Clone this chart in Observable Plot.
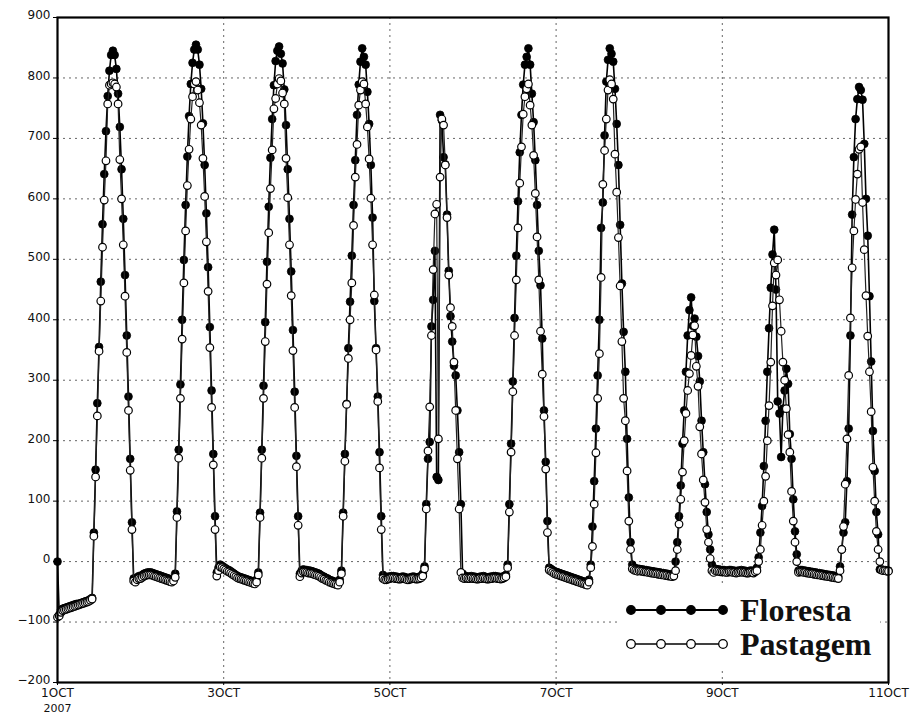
<!DOCTYPE html>
<html>
<head>
<meta charset="utf-8">
<script src="https://cdn.jsdelivr.net/npm/d3@7"></script>
<script src="https://cdn.jsdelivr.net/npm/@observablehq/plot@0.6"></script>
<style>
  html, body { margin: 0; padding: 0; background: white; }
  #chart svg { display: block; }
</style>
</head>
<body>
<div id="chart"></div>
<script>
// Half-hourly samples (UTC), 48 per day, from 1 Oct 2007 00:00
const florestaOct1 = [0,-88,-80,-78,-77,-76,-75,-74,-73,-72,-71,-70,-70,-69,-68,-67,-66,-65,-64,-62,-60,
  48,152,262,355,463,558,641,712,770,812,838,845,838,815,774,719,649,567,474,374,273,170,65,
  -28,-30,-26,-24];
const florestaOct2 = [-24,-22,-20,-19,-18,-18,-18,-19,-20,-21,-22,-23,-24,-25,-26,-27,-28,-29,-30,-28,-20,
  83,185,293,400,499,590,670,737,790,825,847,855,847,822,782,725,656,576,487,388,283,178,75,
  -18,-10,-5,-7];
const florestaOct3 = [-9,-11,-13,-14,-16,-18,-20,-22,-24,-25,-26,-27,-28,-29,-30,-31,-32,-33,-34,-30,-18,
  81,185,291,396,496,587,668,732,788,828,845,852,840,824,781,722,649,567,480,383,281,175,75,
  -20,-15,-13,-14];
const florestaOct4 = [-14,-15,-15,-16,-17,-18,-19,-20,-22,-24,-25,-27,-28,-30,-31,-32,-33,-34,-35,-30,-15,
  81,178,261,353,430,506,590,664,739,789,827,849,835,822,777,724,656,569,431,353,273,181,75,
  -22,-25,-26,-25];
const florestaOct5 = [-25,-24,-24,-25,-25,-26,-26,-25,-25,-26,-27,-27,-26,-25,-25,-26,-26,-25,-24,-20,-8,
  95,170,198,389,433,514,140,135,739,730,669,657,574,481,406,364,324,308,250,181,95,-20,-25,
  -24,-25,-25,-24];
const florestaOct6 = [-25,-25,-26,-26,-25,-25,-24,-25,-26,-26,-25,-25,-24,-24,-25,-25,-26,-25,-24,-22,-5,
  95,195,298,403,506,596,677,739,789,822,835,849,822,774,727,664,590,514,457,369,250,165,67,
  -10,-12,-14,-16];
const florestaOct7 = [-17,-18,-19,-20,-21,-22,-23,-24,-25,-26,-27,-28,-29,-30,-31,-32,-33,-34,-35,-30,
  -5,58,133,220,308,400,552,594,705,794,830,849,840,827,782,724,656,557,460,380,314,203,106,32,-5,
  -10,-11,-12];
const florestaOct8 = [-12,-13,-13,-14,-14,-15,-15,-16,-16,-17,-17,-18,-18,-19,-19,-20,-20,-21,-21,-22,-20,
  0,32,75,126,195,250,314,374,416,437,390,402,372,340,298,233,181,128,82,45,20,-5,-15,
  -12,-13,-13,-14];
const florestaOct9 = [-14,-14,-15,-15,-14,-14,-15,-15,-16,-15,-15,-14,-15,-15,-16,-16,-15,-15,-16,-14,-10,
  7,48,92,158,233,314,386,453,508,549,450,265,245,173,253,283,319,294,211,170,103,50,12,-15,
  -14,-14,-15];
const florestaOct10 = [-15,-16,-16,-17,-17,-18,-18,-19,-19,-20,-20,-21,-21,-22,-22,-23,-23,-24,-24,-25,
  -8,20,48,65,133,220,374,574,669,732,765,785,780,764,691,600,539,439,331,216,150,82,45,-13,
  -13,-14,-14,-15];
const florestaOct11 = [-15];

const pastagemOct1 = [-92,-90,-84,-81,-80,-79,-78,-77,-76,-75,-74,-73,-72,-71,-70,-69,-68,-67,-66,-64,-62,
  42,140,241,348,431,520,598,663,757,788,790,792,790,785,757,665,600,524,439,346,250,151,53,
  -32,-34,-30,-28];
const pastagemOct2 = [-28,-26,-24,-23,-22,-22,-22,-23,-24,-25,-26,-27,-28,-29,-30,-31,-32,-33,-34,-32,-26,
  73,171,270,368,461,547,622,682,732,769,790,794,780,759,722,667,604,529,447,354,255,160,53,
  -24,-15,-9,-10];
const pastagemOct3 = [-12,-14,-16,-17,-19,-21,-23,-25,-27,-28,-29,-30,-31,-32,-33,-34,-35,-36,-37,-34,-22,
  73,171,270,364,459,544,617,681,749,766,790,799,795,775,757,667,602,524,440,349,255,157,60,
  -25,-19,-17,-17];
const pastagemOct4 = [-18,-19,-19,-20,-21,-22,-23,-24,-26,-28,-29,-31,-32,-34,-35,-36,-37,-38,-39,-34,-20,
  75,166,260,336,400,461,556,636,690,755,780,794,790,757,719,666,601,524,441,350,265,155,53,
  -28,-30,-30,-29];
const pastagemOct5 = [-28,-27,-27,-28,-28,-29,-29,-28,-28,-29,-30,-30,-29,-28,-28,-29,-29,-28,-27,-24,-12,
  87,183,256,374,483,575,591,203,636,732,722,656,569,474,420,389,330,250,170,87,-18,-27,-28,
  -27,-28,-28,-27];
const pastagemOct6 = [-28,-28,-29,-29,-28,-28,-27,-28,-29,-29,-28,-28,-27,-27,-28,-28,-29,-28,-27,-25,-10,
  82,181,281,374,466,552,626,686,740,769,782,790,755,722,672,609,537,466,381,310,240,153,48,
  -14,-16,-18,-20];
const pastagemOct7 = [-21,-22,-23,-24,-25,-26,-27,-28,-29,-30,-31,-32,-33,-34,-35,-36,-37,-38,-39,-34,
  -10,25,95,180,270,344,470,624,680,732,780,797,790,765,674,611,536,456,364,270,233,150,67,20,-12,
  -14,-15,-16];
const pastagemOct8 = [-15,-16,-16,-17,-17,-18,-18,-19,-19,-20,-20,-21,-21,-22,-22,-23,-23,-24,-24,-25,-24,
  -15,20,62,103,148,200,245,283,311,341,375,390,323,290,223,178,135,98,53,32,5,-15,-18,
  -15,-16,-16,-17];
const pastagemOct9 = [-17,-17,-18,-18,-17,-17,-18,-18,-19,-18,-18,-17,-18,-18,-19,-19,-18,-18,-19,-17,-15,
  0,20,60,100,141,200,258,330,423,494,474,499,433,381,330,300,253,210,181,116,67,32,0,-18,
  -17,-17,-18];
const pastagemOct10 = [-18,-19,-19,-20,-20,-21,-21,-22,-22,-23,-23,-24,-24,-25,-25,-26,-26,-27,-27,-28,
  -15,20,58,128,203,308,403,486,547,599,641,682,686,594,516,440,373,314,248,156,100,50,20,0,
  -14,-15,-15,-16];
const pastagemOct11 = [-16];

const yTicks = [-200,-100,0,100,200,300,400,500,600,700,800,900];
const yGridValues = [-100,0,100,200,300,400,500,600,700,800];
const xTickDays = [1,3,5,7,9,11];
const xTickLabels = ["1OCT","3OCT","5OCT","7OCT","9OCT","11OCT"];
const yearLabel = "2007";
const xGridDays = [3,5,7,9];
const seriesNames = ["Floresta","Pastagem"];

// ---- build tables ----
const t0 = Date.UTC(2007, 9, 1);
const stepMs = 30 * 60 * 1000;
const florestaAll = [].concat(florestaOct1, florestaOct2, florestaOct3, florestaOct4, florestaOct5,
  florestaOct6, florestaOct7, florestaOct8, florestaOct9, florestaOct10, florestaOct11);
const pastagemAll = [].concat(pastagemOct1, pastagemOct2, pastagemOct3, pastagemOct4, pastagemOct5,
  pastagemOct6, pastagemOct7, pastagemOct8, pastagemOct9, pastagemOct10, pastagemOct11);
const fl = florestaAll.map((v, i) => ({t: new Date(t0 + i * stepMs), v}));
const pa = pastagemAll.map((v, i) => ({t: new Date(t0 + i * stepMs), v}));
const dayDate = d => new Date(Date.UTC(2007, 9, d));

const W = 912, H = 717, mL = 57, mR = 24, mT = 17, mB = 35;

const chart = Plot.plot({
  width: W, height: H,
  marginLeft: mL, marginRight: mR, marginTop: mT, marginBottom: mB,
  style: {fontFamily: "'DejaVu Sans', sans-serif", fontSize: "12px", background: "white", color: "#111"},
  x: {type: "utc", domain: [dayDate(1), dayDate(11)]},
  y: {domain: [-200, 900]},
  marks: [
    Plot.gridY(yGridValues, {stroke: "#666", strokeOpacity: 1, strokeWidth: 1, strokeDasharray: "2,4"}),
    Plot.gridX(xGridDays.map(dayDate), {stroke: "#666", strokeOpacity: 1, strokeWidth: 1, strokeDasharray: "2,4"}),
    Plot.line(fl, {x: "t", y: "v", stroke: "black", strokeWidth: 1.6}),
    Plot.dot(fl, {x: "t", y: "v", r: 3.9, fill: "black", stroke: "black", strokeWidth: 0.8}),
    Plot.line(pa, {x: "t", y: "v", stroke: "#222", strokeWidth: 1.2}),
    Plot.dot(pa, {x: "t", y: "v", r: 3.8, fill: "white", stroke: "black", strokeWidth: 1.2}),
    Plot.axisY(yTicks, {tickSize: 4, stroke: "black", text: null, label: null}),
    Plot.axisY(yTicks, {tickSize: 0, tickPadding: 7, fill: "#111", label: null, dy: -2}),
    Plot.axisX(xTickDays.map(dayDate), {tickSize: 3, tickPadding: 3, stroke: "black", fill: "#111", label: null,
      tickFormat: d => xTickLabels[xTickDays.indexOf(d.getUTCDate())]}),
    Plot.text([dayDate(1)], {x: d => d, frameAnchor: "bottom", dy: 29, text: () => yearLabel,
      fill: "#111", fontSize: 11, textAnchor: "middle"}),
    Plot.frame({stroke: "black", strokeWidth: 2.2})
  ]
});

// ---- legend (inside plot, bottom right) ----
const svg = d3.select(chart);
const lg = svg.append("g").attr("text-anchor", "start");
lg.append("rect").attr("x", 618).attr("y", 586).attr("width", 262).attr("height", 84).attr("fill", "white");
const legendRows = [
  {name: seriesNames[0], y: 610, fill: "black", sw: 2},
  {name: seriesNames[1], y: 644, fill: "white", sw: 1.5}
];
legendRows.forEach(r => {
  lg.append("line").attr("x1", 631).attr("x2", 723).attr("y1", r.y).attr("y2", r.y)
    .attr("stroke", "black").attr("stroke-width", r.sw);
  [631, 661, 691, 723].forEach(cx => {
    lg.append("circle").attr("cx", cx).attr("cy", r.y).attr("r", 4.3)
      .attr("fill", r.fill).attr("stroke", "black").attr("stroke-width", 1.3);
  });
  lg.append("text").attr("x", 740).attr("y", r.y + 11).text(r.name)
    .attr("text-anchor", "start")
    .attr("font-family", "'Liberation Serif', 'Times New Roman', serif")
    .attr("font-weight", "bold").attr("font-size", 32).attr("fill", "#111");
});

document.getElementById("chart").appendChild(chart);
</script>
</body>
</html>
